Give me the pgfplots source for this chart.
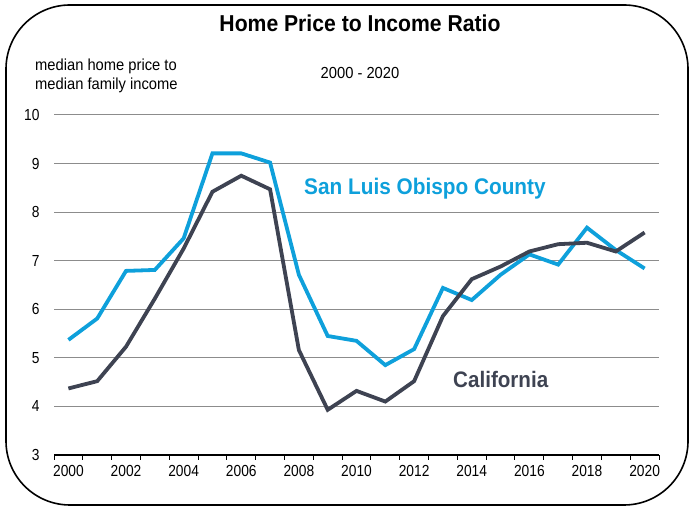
\documentclass[border=0pt]{standalone}
\usepackage{fontspec}
\setmainfont{Liberation Sans}[FakeStretch=0.92]
\newfontfamily\tickfont{Liberation Sans}[FakeStretch=0.86]
\usepackage{pgfplots}
\pgfplotsset{compat=1.18}
\definecolor{slo}{RGB}{14,160,219}
\definecolor{ca}{RGB}{62,67,82}
\definecolor{gridgray}{RGB}{140,140,140}
\begin{document}
\begin{tikzpicture}[x=1bp,y=1bp]
\useasboundingbox (0,0) rectangle (690,508);
\draw[line width=1.6bp, rounded corners=64bp] (6,3) rectangle (688,503);
\begin{axis}[at={(54bp,53bp)}, anchor=south west, scale only axis,
  width=605bp, height=340bp,
  xmin=1999.5, xmax=2020.5, ymin=3, ymax=10,
  axis x line*=bottom, axis y line*=left,
  y axis line style={draw=none},
  x axis line style={line width=1.2bp, black, -},
  xtick={2000,2002,...,2020},
  minor xtick={1999.5,2000.5,...,2020.5},
  ytick={3,4,...,10},
  tick align=outside, major tick length=0pt, minor tick length=5bp,
  minor tick style={line width=1bp, black},
  ymajorgrids, grid style={line width=1bp, gridgray},
  /pgf/number format/assume math mode=true,
  /pgf/number format/1000 sep={},
  tick label style={font=\tickfont\fontsize{16bp}{19bp}\selectfont, black},
  xticklabel style={yshift=-7bp},
  yticklabel style={xshift=-11bp},
  clip=false]
\addplot[slo, line width=3.8bp] coordinates {
(2000,5.37) (2001,5.81) (2002,6.79) (2003,6.81) (2004,7.46) (2005,9.21)
(2006,9.21) (2007,9.02) (2008,6.71) (2009,5.45) (2010,5.35) (2011,4.85)
(2012,5.18) (2013,6.44) (2014,6.19) (2015,6.71) (2016,7.13) (2017,6.92)
(2018,7.68) (2019,7.22) (2020,6.84)};
\addplot[ca, line width=3.8bp] coordinates {
(2000,4.37) (2001,4.52) (2002,5.23) (2003,6.22) (2004,7.25) (2005,8.42)
(2006,8.75) (2007,8.47) (2008,5.16) (2009,3.93) (2010,4.32) (2011,4.10)
(2012,4.52) (2013,5.86) (2014,6.62) (2015,6.88) (2016,7.19) (2017,7.34)
(2018,7.37) (2019,7.19) (2020,7.58)};
\end{axis}
\node[anchor=base, inner sep=0, font=\bfseries\fontsize{23bp}{27bp}\selectfont] at (360,476) {Home Price to Income Ratio};
\node[anchor=base west, inner sep=0, font=\fontsize{16bp}{19bp}\selectfont] at (35,437) {median home price to};
\node[anchor=base west, inner sep=0, font=\fontsize{16bp}{19bp}\selectfont] at (35,418.5) {median family income};
\node[anchor=base, inner sep=0, font=\fontsize{16bp}{19bp}\selectfont] at (360,429) {2000 - 2020};
\node[anchor=base west, inner sep=0, text=slo, font=\bfseries\fontsize{22.6bp}{26bp}\selectfont] at (304,313) {San Luis Obispo County};
\node[anchor=base west, inner sep=0, text=ca, font=\bfseries\fontsize{22.4bp}{26bp}\selectfont] at (453,120) {California};
\end{tikzpicture}
\end{document}
